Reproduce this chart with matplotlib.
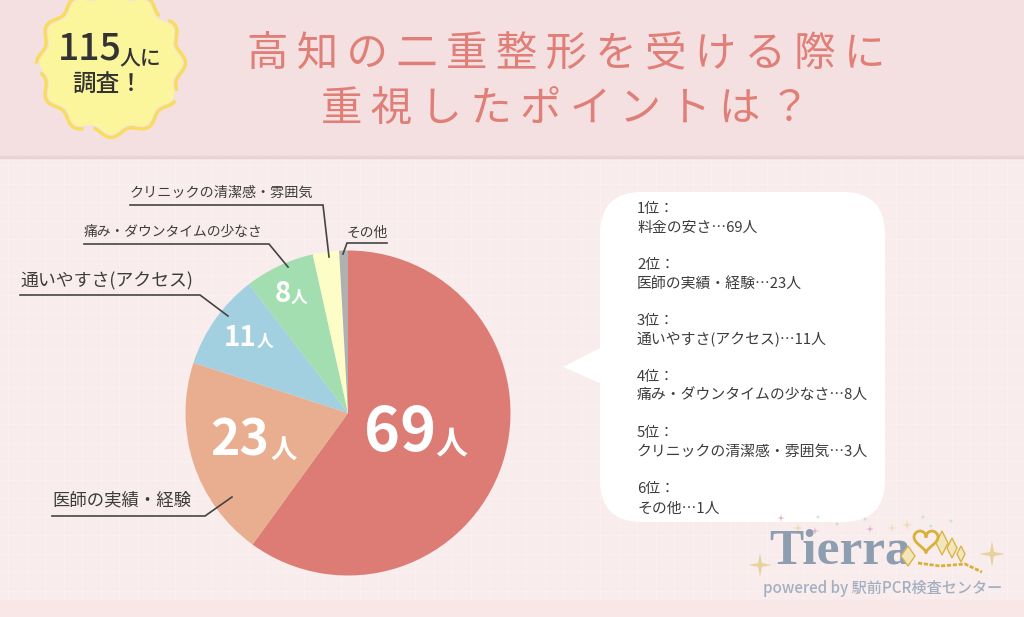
import numpy as np
import matplotlib
matplotlib.use('Agg')
import matplotlib.pyplot as plt
from matplotlib.patches import Rectangle, FancyBboxPatch, Polygon

plt.rcParams['font.family'] = ['Noto Sans CJK JP', 'DejaVu Sans']

# =============================================================================
# Data
# =============================================================================
categories = ['料金の安さ', '医師の実績・経験', '通いやすさ(アクセス)',
              '痛み・ダウンタイムの少なさ', 'クリニックの清潔感・雰囲気', 'その他']
counts = [69, 23, 11, 8, 3, 1]
colors = ['#dd7c75', '#e9ae90', '#a3d0e0', '#a3deb0', '#fdfdc8', '#b0b0b0']
title_lines = ['高知の二重整形を受ける際に', '重視したポイントは？']

W, H = 1024, 617
INK = '#3c3c3c'

fig = plt.figure(figsize=(W / 100, H / 100), dpi=100)
ax = fig.add_axes([0, 0, 1, 1])
ax.set_xlim(0, W)
ax.set_ylim(H, 0)
ax.axis('off')

# --- background ---
ax.add_patch(Rectangle((0, 0), W, H, color='#f9eced', zorder=0))
for g in np.arange(8, W, 18.5):
    ax.plot([g, g], [157, 600], color='#fbf1f1', lw=0.6, zorder=0.5)
for g in np.arange(165, 600, 18.5):
    ax.plot([0, W], [g, g], color='#fbf1f1', lw=0.6, zorder=0.5)
ax.add_patch(Rectangle((0, 0), W, 156, color='#f5e0e1', zorder=1))
ax.add_patch(Rectangle((0, 156), W, 2, color='#ead3d3', zorder=1))
ax.add_patch(Rectangle((0, 600), W, 17, color='#f9e6e6', zorder=1))

# --- badge ---
t = np.linspace(0, 2 * np.pi, 500)
r = 68 + 3.5 * np.cos(12 * t)
ax.add_patch(Polygon(np.c_[111 + r * np.sin(t), 63 + r * np.cos(t)],
                     facecolor='#fbf59b', edgecolor='none', zorder=2))
r2 = 71 + 3.5 * np.cos(12 * t)
ax.plot(111 + r2 * np.sin(t), 63 + r2 * np.cos(t), color='#f8dc5c', lw=2.4,
        ls=(0, (24, 3)), zorder=2.5)
ax.text(90, 49, '115', fontsize=27, color='#333333', ha='center', va='center', zorder=3, fontweight='medium')
ax.text(140, 58, '人に', fontsize=15, color='#333333', ha='center', va='center', zorder=3, fontweight='medium')
ax.text(108, 85, '調査！', fontsize=17, color='#333333', ha='center', va='center', zorder=3, fontweight='medium')

# --- title ---
for line, y in zip(title_lines, [54, 109]):
    ax.text(566, y, '\u2009'.join(line), fontsize=29.9, color='#e07f78', ha='center',
            va='center', zorder=3)

# --- pie ---
cx, cy, rad = 348, 413, 162.5
pie_ax = fig.add_axes([(cx - rad) / W, 1 - (cy + rad) / H, 2 * rad / W, 2 * rad / H])
pie_ax.pie(counts, colors=colors, startangle=90, counterclock=False, radius=1)
pie_ax.set_xlim(-1, 1)
pie_ax.set_ylim(-1, 1)

# overlay for labels on top of the pie
top = fig.add_axes([0, 0, 1, 1])
top.set_xlim(0, W)
top.set_ylim(H, 0)
top.axis('off')

# (number x, y, size), (unit x, y, size)
pie_labels = [(400, 433, 44, 451, 444, 23),
              (240, 441, 36, 284, 450, 19),
              (240, 338, 20, 265, 342, 12),
              (283, 294, 20, 299, 298, 12)]
for c, (nx, ny, ns, ux, uy, us) in zip(counts, pie_labels):
    top.text(nx, ny, str(c), fontsize=ns, color='white', ha='center', va='center', fontweight='bold')
    top.text(ux, uy, '人', fontsize=us, color='white', ha='center', va='center', fontweight='bold')

# --- leader lines ---
leaders = [
    ('医師の実績・経験', 52, 500, 12.5, [52, 205, 232], [516, 516, 497]),
    ('通いやすさ(アクセス)', 20, 281, 12.9, [20, 200, 228], [295, 295, 316]),
    ('痛み・ダウンタイムの少なさ', 84, 232, 9.95, [84, 269, 288], [244, 244, 267]),
    ('クリニックの清潔感・雰囲気', 130, 193, 10.15, [130, 323, 329], [205, 205, 257]),
    ('その他', 347, 233, 9.9, [387, 347, 343], [243, 243, 254]),
]
for label, tx, ty, fs, xs, ys in leaders:
    top.text(tx, ty, label, fontsize=fs, color=INK, ha='left', va='center')
    top.plot(xs, ys, color='#444444', lw=1.2, solid_joinstyle='miter')

# --- speech bubble ---
top.add_patch(FancyBboxPatch((600, 192), 285, 330,
                             boxstyle='round,pad=0,rounding_size=42',
                             facecolor='white', edgecolor='none', zorder=1))
top.add_patch(Polygon([(602, 347), (563, 367), (602, 384)], facecolor='white',
                      edgecolor='none', zorder=1))
for i, (cat, c) in enumerate(zip(categories, counts)):
    y0 = 208.5 + i * 56.2
    top.text(637, y0, f'{i + 1}位：', fontsize=10.7, color=INK, ha='left', va='center', zorder=2)
    top.text(637, y0 + 19, f'{cat}…{c}人', fontsize=10.7, color=INK, ha='left', va='center', zorder=2)

# --- logo ---
top.text(840, 552, 'Tierra', fontsize=37, color='#8e9eb1', ha='center', va='center',
         family=['Liberation Serif', 'DejaVu Serif'], fontweight='bold', zorder=4)
top.text(883, 588, 'powered by 駅前PCR検査センター', fontsize=10.9, color='#a3afc0',
         ha='center', va='center', fontweight='medium', zorder=4)

def sparkle(x, y, s, color):
    a = np.linspace(0, 2 * np.pi, 9)[:-1]
    rr = np.where(np.arange(8) % 2 == 0, s, s * 0.22)
    top.add_patch(Polygon(np.c_[x + rr * np.sin(a), y + rr * np.cos(a)],
                          facecolor=color, edgecolor='none', zorder=3))

for x, y, s, col in [(760, 565, 12, '#e6d29c'), (992, 554, 13, '#e6d29c'),
                     (781, 518, 4, '#d8a8c4'), (798, 528, 5, '#ecd9a8'), (815, 531, 4, '#d8a8c4'),
                     (818, 517, 2.5, '#a8d4e6'), (837, 524, 2.5, '#a8d4e6'), (865, 519, 2.5, '#a8d4e6'),
                     (870, 529, 4, '#d8a8c4'), (892, 528, 4, '#ecd9a8'), (907, 525, 5, '#ecd9a8'),
                     (923, 517, 2.5, '#a8d4e6'), (931, 526, 2.5, '#a8d4e6'), (951, 521, 2.5, '#a8d4e6')]:
    sparkle(x, y, s, col)

# crown: gold outline shapes over the last letters
for x, y, w, h in [(908, 556, 7, 10), (942, 543, 6, 12), (952, 548, 5, 10), (961, 554, 4, 8)]:
    top.add_patch(Polygon([(x, y - h), (x + w, y), (x, y + h), (x - w, y)], facecolor='#f3e6bc',
                          edgecolor='#d9b64a', lw=1, zorder=5))
hx, hy = 926, 540
u = np.linspace(0, 2 * np.pi, 80)
top.plot(hx + 0.75 * 16 * np.sin(u) ** 3,
         hy - 0.75 * (13 * np.cos(u) - 5 * np.cos(2 * u) - 2 * np.cos(3 * u) - np.cos(4 * u)),
         color='#d9b038', lw=2, zorder=5)
top.plot([918, 940, 965, 982], [563, 566, 564, 572], color='#d9b038', lw=2, ls=(0, (1.5, 0.6)), zorder=5)

fig.savefig('out.png', dpi=100)
